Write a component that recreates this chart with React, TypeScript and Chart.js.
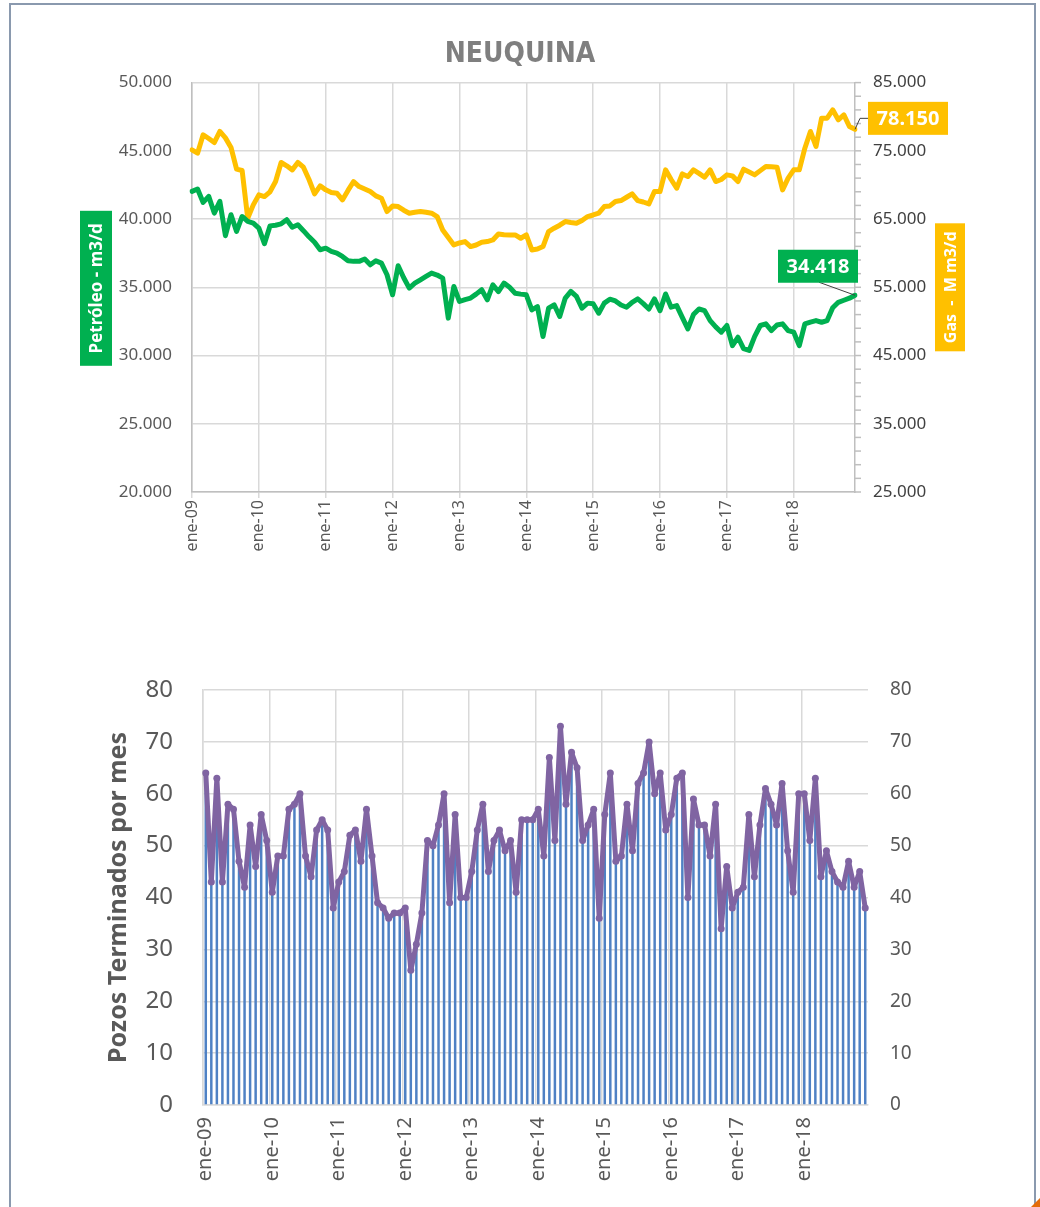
import React, { useEffect, useRef } from 'react';
import { Chart, registerables } from 'chart.js';
Chart.register(...registerables);

// ---------- DATA ----------
const monthAbbr = ['ene', 'feb', 'mar', 'abr', 'may', 'jun', 'jul', 'ago', 'sep', 'oct', 'nov', 'dic'];
const yearAbbr = ['09', '10', '11', '12', '13', '14', '15', '16', '17', '18'];
const categories: string[] = yearAbbr.flatMap((y) => monthAbbr.map((m) => `${m}-${y}`));

// Petróleo - m3/d (left axis)
const petroleo = [
  42030, 42200, 41220, 41660, 40440, 41300, 38780, 40320, 39090, 40190, 39830, 39710,
  39340, 38200, 39500, 39550, 39650, 39950, 39400, 39580, 39150, 38700, 38300, 37750,
  37870, 37630, 37510, 37260, 36950, 36900, 36900, 37070, 36650, 36940, 36770, 35920,
  34450, 36580, 35700, 34940, 35300, 35550, 35800, 36040, 35900, 35670, 32740, 35060,
  33960, 34100, 34210, 34500, 34820, 34080, 35180, 34690, 35310, 35000, 34570, 34500,
  34450, 33350, 33590, 31390, 33470, 33720, 32860, 34210, 34700, 34330, 33470, 33840,
  33800, 33100, 33840, 34130, 34000, 33700, 33540, 33900, 34150, 33800, 33410, 34150,
  33290, 34510, 33540, 33660, 32800, 31950, 33000, 33410, 33290, 32560, 32100, 31710,
  32200, 30730, 31340, 30500, 30370, 31400, 32200, 32320, 31830, 32240, 32320, 31830,
  31710, 30730, 32320, 32450, 32560, 32440, 32560, 33500, 33900, 34050, 34200, 34418,
];

// Gas - M m3/d (right axis)
const gas = [
  75150, 74660, 77350, 76800, 76220, 77840, 76900, 75500, 72310, 72120, 65120, 67080,
  68550, 68300, 69000, 70500, 73290, 72800, 72210, 73290, 72600, 70800, 68690, 69870,
  69280, 68890, 68790, 67810, 69200, 70500, 69770, 69400, 69030, 68400, 68060, 66100,
  66930, 66830, 66300, 65860, 66000, 66100, 66000, 65860, 65370, 63410, 62300, 61210,
  61500, 61700, 60970, 61200, 61600, 61700, 61940, 62820, 62700, 62680, 62680, 62190,
  62680, 60480, 60600, 60970, 63170, 63660, 64100, 64630, 64500, 64390, 64800, 65370,
  65600, 65860, 66830, 66930, 67570, 67710, 68200, 68690, 67710, 67500, 67220, 69030,
  69030, 72210, 70800, 69520, 71620, 71230, 72210, 71700, 71130, 72210, 70500, 70800,
  71480, 71330, 70500, 72310, 71900, 71480, 72100, 72700, 72650, 72600, 69280, 71000,
  72210, 72210, 75390, 77840, 75640, 79790, 79790, 81010, 79550, 80280, 78570, 78150,
];

// Pozos terminados por mes
const pozos = [
  64, 43, 63, 43, 58, 57, 47, 42, 54, 46, 56, 51,
  41, 48, 48, 57, 58, 60, 48, 44, 53, 55, 53, 38,
  43, 45, 52, 53, 47, 57, 48, 39, 38, 36, 37, 37,
  38, 26, 31, 37, 51, 50, 54, 60, 39, 56, 40, 40,
  45, 53, 58, 45, 51, 53, 49, 51, 41, 55, 55, 55,
  57, 48, 67, 51, 73, 58, 68, 65, 51, 54, 57, 36,
  56, 64, 47, 48, 58, 49, 62, 64, 70, 60, 64, 53,
  56, 63, 64, 40, 59, 54, 54, 48, 58, 34, 46, 38,
  41, 42, 56, 44, 54, 61, 58, 54, 62, 49, 41, 60,
  60, 51, 63, 44, 49, 45, 43, 42, 47, 42, 45, 38,
];

const petroleoTicks = { min: 20000, max: 50000, step: 5000 };
const gasTicks = { min: 25000, max: 85000, step: 10000, minorStep: 2000 };
const pozosTicks = { min: 0, max: 80, step: 10 };

// ---------- HELPERS ----------
const FONT = '"Noto Sans", "Open Sans", sans-serif';
const GRID = '#d9d9d9';
const AXIS = '#bfbfbf';
const TXT = '#595959';
const GREEN = '#00b050';
const GOLD = '#ffc000';

const fmt = (v: number) => Math.round(v).toString().replace(/\B(?=(\d{3})+(?!\d))/g, '.');

function drawVBox(ctx: CanvasRenderingContext2D, cx: number, cy: number, w: number, h: number, fill: string, text: string, size: number) {
  ctx.save();
  ctx.fillStyle = fill;
  ctx.fillRect(cx - w / 2, cy - h / 2, w, h);
  ctx.translate(cx, cy);
  ctx.rotate(-Math.PI / 2);
  ctx.fillStyle = '#ffffff';
  ctx.font = `bold ${size}px ${FONT}`;
  ctx.textAlign = 'center';
  ctx.textBaseline = 'middle';
  ctx.fillText(text, 0, 1);
  ctx.restore();
}

function drawHBox(ctx: CanvasRenderingContext2D, cx: number, cy: number, w: number, h: number, fill: string, text: string, size: number) {
  ctx.save();
  ctx.fillStyle = fill;
  ctx.fillRect(cx - w / 2, cy - h / 2, w, h);
  ctx.fillStyle = '#ffffff';
  ctx.font = `bold ${size}px ${FONT}`;
  ctx.textAlign = 'center';
  ctx.textBaseline = 'middle';
  ctx.fillText(text, cx, cy + 1);
  ctx.restore();
}

const topExtras = {
  id: 'topExtras',
  afterDraw(chart: any) {
    const { ctx, chartArea, scales } = chart;
    const yR = scales.y1;
    ctx.save();
    // minor/major tick marks on the gas axis
    ctx.strokeStyle = AXIS;
    ctx.lineWidth = 1.5;
    for (let v = gasTicks.min; v <= gasTicks.max; v += gasTicks.minorStep) {
      const y = yR.getPixelForValue(v);
      ctx.beginPath();
      ctx.moveTo(chartArea.right, y);
      ctx.lineTo(chartArea.right + 6, y);
      ctx.stroke();
    }
    ctx.restore();

    const midY = (chartArea.top + chartArea.bottom) / 2;
    drawVBox(ctx, chartArea.left - 96, midY + 1, 32, 155, GREEN, 'Petróleo - m3/d', 17);
    drawVBox(ctx, chartArea.right + 95, midY, 30, 128, GOLD, 'Gas  -  M m3/d', 16);

    // data labels for last points
    const last = categories.length - 1;
    const gPt = chart.getDatasetMeta(0).data[last];
    const oPt = chart.getDatasetMeta(1).data[last];
    ctx.save();
    ctx.strokeStyle = '#404040';
    ctx.lineWidth = 1;
    ctx.beginPath();
    ctx.moveTo(gPt.x + 13, gPt.y - 11);
    ctx.lineTo(gPt.x + 5, gPt.y - 11);
    ctx.lineTo(gPt.x, gPt.y);
    ctx.stroke();
    ctx.beginPath();
    ctx.moveTo(oPt.x - 36, oPt.y - 13);
    ctx.lineTo(oPt.x, oPt.y);
    ctx.stroke();
    ctx.restore();
    drawHBox(ctx, gPt.x + 53, gPt.y - 11, 80, 33, GOLD, fmt(gas[last]), 20);
    drawHBox(ctx, oPt.x - 37, oPt.y - 29, 80, 33, GREEN, fmt(petroleo[last]), 20);
  },
};

function TopChart() {
  const ref = useRef<HTMLCanvasElement | null>(null);
  useEffect(() => {
    if (!ref.current) return;
    const chart = new Chart(ref.current, {
      type: 'line',
      data: {
        labels: categories,
        datasets: [
          { label: 'Gas', data: gas, yAxisID: 'y1', borderColor: GOLD, backgroundColor: GOLD, borderWidth: 5, borderJoinStyle: 'round', borderCapStyle: 'round', pointRadius: 0, tension: 0, order: 2 },
          { label: 'Petróleo', data: petroleo, yAxisID: 'y', borderColor: GREEN, backgroundColor: GREEN, borderWidth: 5, borderJoinStyle: 'round', borderCapStyle: 'round', pointRadius: 0, tension: 0, order: 1 },
        ],
      },
      options: {
        responsive: false,
        maintainAspectRatio: false,
        animation: false,
        layout: { padding: { top: 0, left: 0, right: 0, bottom: 0 } },
        plugins: {
          legend: { display: false },
          tooltip: { enabled: false },
          title: {
            display: true,
            text: 'NEUQUINA',
            color: '#7f7f7f',
            font: { family: '"Liberation Sans Narrow", "DejaVu Sans Condensed", sans-serif', size: 28, weight: 'bold', lineHeight: 1.2 },
            padding: { top: 38, bottom: 11 },
          },
        },
        scales: {
          x: {
            type: 'category',
            offset: false,
            afterFit: (s: any) => { s.height = 108; },
            grid: {
              color: (c: any) => (c.index % 12 === 0 ? GRID : 'rgba(0,0,0,0)'),
              lineWidth: 1.5,
              tickLength: 6,
              drawTicks: true,
            },
            border: { color: AXIS, width: 1.5 },
            ticks: {
              autoSkip: false,
              minRotation: 90,
              maxRotation: 90,
              padding: 2,
              color: TXT,
              font: { family: FONT, size: 16 },
              callback: function (this: any, v: any, i: number) { return i % 12 === 0 ? this.getLabelForValue(v) : ''; },
            },
          },
          y: {
            position: 'left',
            min: petroleoTicks.min,
            max: petroleoTicks.max,
            afterFit: (s: any) => { s.width = 192; },
            grid: { color: GRID, lineWidth: 1.5, drawTicks: false },
            border: { color: AXIS, width: 1.5 },
            ticks: { stepSize: petroleoTicks.step, padding: 20, color: TXT, font: { family: FONT, size: 17 }, callback: (v: any) => fmt(v) },
          },
          y1: {
            position: 'right',
            min: gasTicks.min,
            max: gasTicks.max,
            afterFit: (s: any) => { s.width = 185; },
            grid: { drawOnChartArea: false, drawTicks: false },
            border: { color: AXIS, width: 1.5 },
            ticks: { stepSize: gasTicks.step, padding: 18, color: '#404040', font: { family: FONT, size: 17 }, callback: (v: any) => fmt(v) },
          },
        },
      },
      plugins: [topExtras],
    } as any);
    return () => chart.destroy();
  }, []);
  return <canvas ref={ref} width={1040} height={600} style={{ position: 'absolute', left: 0, top: 0, width: 1040, height: 600 }} />;
}

function BottomChart() {
  const ref = useRef<HTMLCanvasElement | null>(null);
  useEffect(() => {
    if (!ref.current) return;
    const chart = new Chart(ref.current, {
      data: {
        labels: categories,
        datasets: [
          { type: 'line', label: 'Pozos (línea)', data: pozos, borderColor: '#8064a2', backgroundColor: '#8064a2', borderWidth: 5, borderJoinStyle: 'round', borderCapStyle: 'round', pointRadius: 3.5, pointBorderWidth: 0, tension: 0, order: 0 },
          { type: 'bar', label: 'Pozos Terminados', data: pozos, backgroundColor: '#4f81c4', borderWidth: 0, barPercentage: 0.45, categoryPercentage: 1, order: 1 },
        ],
      },
      options: {
        responsive: false,
        maintainAspectRatio: false,
        animation: false,
        layout: { padding: { top: 90, left: 0, right: 0, bottom: 0 } },
        plugins: { legend: { display: false }, tooltip: { enabled: false } },
        scales: {
          x: {
            type: 'category',
            offset: true,
            afterFit: (s: any) => { s.height = 102; },
            grid: {
              offset: true,
              color: (c: any) => (c.index % 12 === 0 ? GRID : 'rgba(0,0,0,0)'),
              lineWidth: 1.5,
              drawTicks: false,
            },
            border: { color: GRID, width: 1.5 },
            ticks: {
              autoSkip: false,
              minRotation: 90,
              maxRotation: 90,
              padding: 12,
              color: TXT,
              font: { family: FONT, size: 20 },
              callback: function (this: any, v: any, i: number) { return i % 12 === 0 ? this.getLabelForValue(v) : ''; },
            },
          },
          y: {
            position: 'left',
            min: pozosTicks.min,
            max: pozosTicks.max,
            afterFit: (s: any) => { s.width = 203; },
            grid: { color: GRID, lineWidth: 1.5, drawTicks: false },
            border: { color: GRID, width: 1.5 },
            title: {
              display: true,
              text: 'Pozos Terminados por mes',
              color: TXT,
              font: { family: FONT, size: 25, weight: 'bold', lineHeight: 1.2 },
              padding: { top: 104, bottom: 0 },
            },
            ticks: { stepSize: pozosTicks.step, padding: 30, color: TXT, font: { family: FONT, size: 24 } },
          },
          y1: {
            position: 'right',
            min: pozosTicks.min,
            max: pozosTicks.max,
            afterFit: (s: any) => { s.width = 172; },
            grid: { drawOnChartArea: false, drawTicks: false },
            border: { display: false },
            ticks: { stepSize: pozosTicks.step, padding: 22, color: TXT, font: { family: FONT, size: 19 } },
          },
        },
      },
    } as any);
    return () => chart.destroy();
  }, []);
  return <canvas ref={ref} width={1040} height={607} style={{ position: 'absolute', left: 0, top: 600, width: 1040, height: 607 }} />;
}

export default function App() {
  return (
    <div style={{ position: 'absolute', left: 0, top: 0, width: 1040, height: 1207, overflow: 'hidden', background: '#ffffff' }}>
      <div style={{ position: 'absolute', left: 9, top: 3, width: 1027, height: 1300, boxSizing: 'border-box', border: '2px solid #8a99ae', background: '#ffffff' }} />
      <TopChart />
      <BottomChart />
      <div style={{ position: 'absolute', left: 1031, top: 1198, width: 0, height: 0, borderLeft: '9px solid transparent', borderBottom: '9px solid #e46c0a' }} />
    </div>
  );
}
